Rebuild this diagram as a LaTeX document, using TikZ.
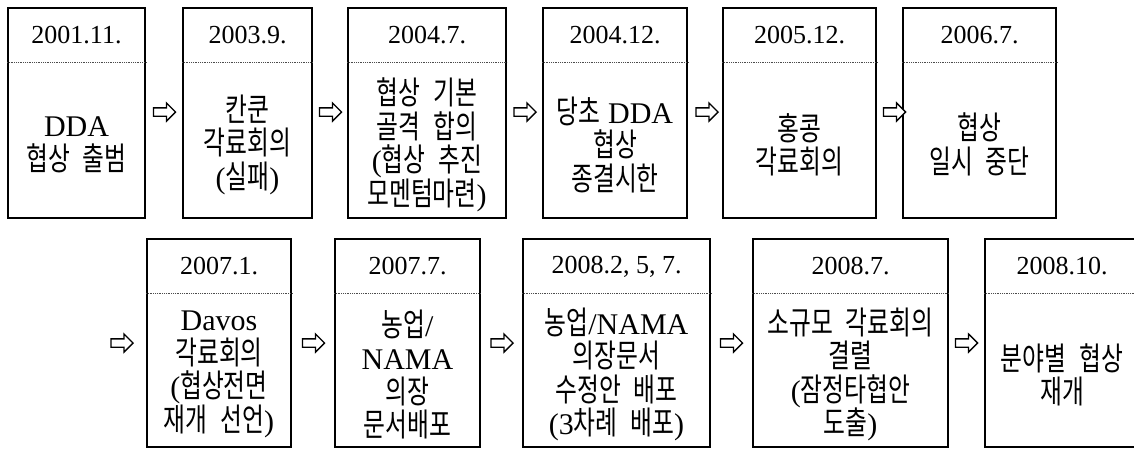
\documentclass[tikz,border=0pt]{standalone}
\usepackage{fontspec}
\setmainfont{Liberation Serif}
\newfontfamily\kr[FakeStretch=0.74,WordSpace=2.4,Scale=1.07]{Noto Sans CJK KR}
\usetikzlibrary{shapes.arrows,calc}
\newcommand\K[1]{{\kr #1}}
\tikzset{
  tbox/.style={draw, line width=2.2pt, rectangle, inner sep=0pt},
  dotline/.style={draw=black!70, line width=0.7pt, dash pattern=on 0.7pt off 1.1pt},
  datetext/.style={font=\fontsize{26}{30}\selectfont, inner sep=0pt},
  bodytext/.style={font=\fontsize{30}{33.5}\selectfont, align=center, inner sep=0pt},
  blk/.style={single arrow, draw, line width=1.3pt, minimum height=22pt,
    inner xsep=0pt, inner ysep=3.5pt, single arrow head extend=5pt, fill=white}
}
% name, cx, ytop, width, height, date, body
\newcommand\tlbox[7]{%
  \node[tbox, minimum width=#4pt, minimum height=#5pt, anchor=north] (#1) at (#2,#3) {};
  \coordinate (#1l) at ($(#1.north west)+(0,55)$);
  \coordinate (#1r) at ($(#1.north east)+(0,55)$);
  \draw[dotline] (#1l) -- (#1r);
  \node[datetext] (#1d) at ($(#1.north)+(0,28.5)$) {#6};
  \node[bodytext] (#1b) at ($($(#1l)!0.5!(#1.south east)$)+(0,4)$) {#7};
}
\begin{document}
\begin{tikzpicture}[x=1pt,y=-1pt]
\clip (0,0) rectangle (1134,448);
\fill[white] (0,0) rectangle (1134,448);
% row 1
\tlbox{b1}{76.5}{7}{137}{210}{2001.11.}{DDA\\\K{협상 출범}}
\tlbox{b2}{247.5}{7}{129}{210}{2003.9.}{\K{칸쿤}\\\K{각료회의}\\(\K{실패})}
\tlbox{b3}{427}{7}{158}{210}{2004.7.}{\K{협상 기본}\\\K{골격 합의}\\(\K{협상 추진}\\\K{모멘텀마련})}
\tlbox{b4}{615}{7}{144}{210}{2004.12.}{\K{당초} DDA\\\K{협상}\\\K{종결시한}}
\tlbox{b5}{799.5}{7}{153}{210}{2005.12.}{\K{홍콩}\\\K{각료회의}}
\tlbox{b6}{979.5}{7}{153}{210}{2006.7.}{\K{협상}\\\K{일시 중단}}
% row 2
\tlbox{b7}{219}{238}{144}{208}{2007.1.}{Davos\\\K{각료회의}\\(\K{협상전면}\\\K{재개 선언})}
\tlbox{b8}{407.5}{238}{145}{208}{2007.7.}{\K{농업}/\\NAMA\\\K{의장}\\\K{문서배포}}
\tlbox{b9}{616.5}{238}{187}{208}{2008.2, 5, 7.}{\K{농업}/NAMA\\\K{의장문서}\\\K{수정안 배포}\\(3\K{차례 배포})}
\tlbox{b10}{850.5}{238}{195}{208}{2008.7.}{\K{소규모 각료회의}\\\K{결렬}\\(\K{잠정타협안}\\\K{도출})}
\tlbox{b11}{1062}{238}{154}{208}{2008.10.}{\K{분야별 협상}\\\K{재개}}
% arrows row 1
\node[blk] (a1) at (162.5,112) {};
\node[blk] (a2) at (328.5,112) {};
\node[blk] (a3) at (523,112) {};
\node[blk] (a4) at (705,112) {};
\node[blk] (a5) at (892.5,112) {};
% arrows row 2
\node[blk] (a6) at (120,343) {};
\node[blk] (a7) at (311.5,343) {};
\node[blk] (a8) at (500,343) {};
\node[blk] (a9) at (729.5,343) {};
\node[blk] (a10) at (964.5,343) {};
\end{tikzpicture}
\end{document}
